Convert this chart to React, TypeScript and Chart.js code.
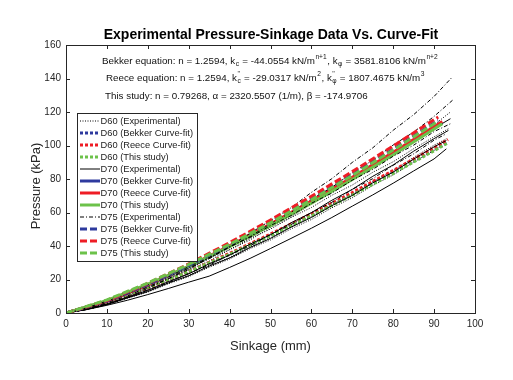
import React, { useEffect, useRef } from "react";
import { Chart, registerables } from "chart.js";

Chart.register(...registerables);

// ---------- DATA ----------
const xTicksLabel = [0, 10, 20, 30, 40, 50, 60, 70, 80, 90, 100];
const yTicksLabel = [0, 20, 40, 60, 80, 100, 120, 140, 160];

// experimental sinkage grid (mm); last value of each curve uses its own end sinkage
const expSinkage = [0, 5, 10, 15, 20, 25, 30, 35, 40, 45, 50, 55, 60, 65, 70, 75, 80, 85, 90];

const d60Exp1 = [0, 2.4, 5.9, 9.8, 14.9, 19.7, 25.7, 31.0, 37.8, 43.6, 51.0, 57.3, 65.1, 71.9, 80.2, 87.3, 95.9, 103.4, 112.3, 120];
const d60Exp2 = [0, 2.9, 6.5, 11.4, 15.8, 21.5, 26.3, 32.5, 37.8, 44.5, 50.1, 57.0, 63.0, 70.3, 76.4, 84.0, 90.3, 98.1, 105.2, 110];
const d60Exp3 = [0, 2.1, 5.0, 9.1, 12.9, 18.0, 22.4, 28.2, 33.2, 39.5, 44.9, 51.7, 57.6, 64.8, 70.9, 78.5, 85.0, 92.9, 100.2, 104];
const d60Exp4 = [0, 2.1, 4.9, 8.8, 12.5, 17.4, 21.7, 27.3, 32.2, 38.4, 43.6, 50.2, 55.8, 62.8, 68.8, 76.1, 82.4, 90.1, 97.1, 100];
const d60ExpEnd = [94, 93.5, 93, 92];

const d70Exp1 = [0, 3.1, 7.0, 11.9, 16.6, 22.5, 27.6, 34.1, 39.6, 46.6, 52.5, 59.8, 66.0, 73.5, 80.0, 87.9, 94.6, 102.7, 110.2, 116];
const d70Exp2 = [0, 2.2, 5.2, 9.5, 13.5, 18.7, 23.3, 29.4, 34.5, 41.1, 46.7, 53.8, 59.9, 67.3, 73.8, 81.6, 88.4, 96.6, 104.1, 109];
const d70Exp3 = [0, 2.1, 5.0, 9.0, 12.8, 17.9, 22.2, 28.0, 32.8, 39.1, 44.5, 51.2, 57.0, 64.1, 70.2, 77.7, 84.1, 91.9, 99.2, 103];
const d70Exp4 = [0, 2.0, 4.6, 7.6, 11.0, 14.6, 18.4, 22.0, 27.2, 32.6, 38.5, 44.5, 50.6, 57.0, 63.8, 70.5, 77.5, 84.8, 92.0, 98];
const d70ExpEnd = [94, 93.5, 93, 93];

const d75Exp1 = [0, 2.1, 5.4, 9.3, 14.8, 20.4, 26.0, 33.1, 39.5, 47.6, 55.2, 62.8, 72.0, 80.2, 89.9, 98.6, 109.1, 118.4, 129.3, 141];
const d75Exp2 = [0, 2.5, 6.2, 10.1, 15.6, 20.5, 26.9, 32.4, 39.4, 45.6, 53.3, 60.0, 68.1, 75.0, 83.7, 91.2, 100.3, 108.0, 117.4, 127];
const d75Exp3 = [0, 3.0, 7.1, 11.3, 16.8, 21.5, 27.7, 33.0, 39.6, 45.1, 52.2, 58.1, 65.5, 71.6, 79.3, 85.7, 93.6, 100.2, 108.3, 113];
const d75Exp4 = [0, 2.2, 5.5, 9.0, 13.8, 18.1, 23.7, 28.5, 34.8, 40.1, 46.9, 52.7, 59.9, 66.1, 73.8, 80.2, 88.2, 95.0, 103.2, 107];
const d75ExpEnd = [94.5, 94.5, 94, 93];

// curve-fit sinkage grid (mm)
const fitSinkage = [0, 10, 20, 30, 40, 50, 60, 70, 80, 90];

const d60Bekker = [0, 6.1, 14.6, 24.4, 35.1, 46.4, 58.4, 70.9, 83.9, 97.3, 102];
const d60Reece = [0, 6.2, 14.9, 24.8, 35.6, 47.1, 59.2, 71.9, 85.1, 98.6, 103.5];
const d60Study = [0, 6.6, 15.2, 24.7, 35.1, 46.2, 58.0, 70.4, 83.4, 96.9, 101.6];
const d60FitEnd = 93.4;

const d70Bekker = [0, 6.9, 16.6, 27.6, 39.7, 52.6, 66.2, 80.3, 95.1, 110.3, 113.4];
const d70Reece = [0, 7.0, 16.8, 27.9, 40.1, 53.1, 66.8, 81.0, 95.9, 111.2, 114.3];
const d70Study = [0, 7.5, 17.2, 27.9, 39.6, 52.2, 65.6, 79.7, 94.5, 109.9, 113.0];
const d70FitEnd = 92;

const d75Bekker = [0, 7.1, 17.1, 28.4, 40.9, 54.1, 68.1, 82.6, 97.8, 113.4, 115];
const d75Reece = [0, 7.4, 17.7, 29.3, 42.0, 55.5, 69.7, 84.4, 99.7, 115.4, 117];
const d75Study = [0, 7.8, 17.9, 29.0, 41.0, 53.9, 67.6, 82.1, 97.3, 113.0, 114.6];
const d75FitEnd = 91;

// ---------- STYLE ----------
const FONT = "'Liberation Sans', Arial, Helvetica, sans-serif";
const BLUE = "#2E3A9E";
const RED = "#EE1D25";
const GREEN = "#6CC24A";
const BLACK = "#000000";

const pts = (ys: number[], xs: number[], endX: number) =>
  ys.map((y, i) => ({ x: i < xs.length ? xs[i] : endX, y }));

type DS = {
  label: string;
  data: { x: number; y: number }[];
  color: string;
  width: number;
  dash: number[];
};

function buildDatasets(): DS[] {
  const out: DS[] = [];
  const expDash60 = [1, 1.5];
  const expDash75 = [4, 2, 1, 2];
  const fitDash60 = [3, 2];
  const fitDash75 = [7, 3];
  const groups = [
    { name: "D60", exps: [d60Exp1, d60Exp2, d60Exp3, d60Exp4], ends: d60ExpEnd, expDash: expDash60,
      fits: [d60Bekker, d60Reece, d60Study], fitEnd: d60FitEnd, fitDash: fitDash60 },
    { name: "D70", exps: [d70Exp1, d70Exp2, d70Exp3, d70Exp4], ends: d70ExpEnd, expDash: [] as number[],
      fits: [d70Bekker, d70Reece, d70Study], fitEnd: d70FitEnd, fitDash: [] as number[] },
    { name: "D75", exps: [d75Exp1, d75Exp2, d75Exp3, d75Exp4], ends: d75ExpEnd, expDash: expDash75,
      fits: [d75Bekker, d75Reece, d75Study], fitEnd: d75FitEnd, fitDash: fitDash75 },
  ];
  const fitNames = ["Bekker Curve-fit", "Reece Curve-fit", "This study"];
  const fitColors = [BLUE, RED, GREEN];
  for (const g of groups) {
    g.exps.forEach((ys, i) => {
      out.push({
        label: i === 0 ? `${g.name} (Experimental)` : "",
        data: pts(ys, expSinkage, g.ends[i]),
        color: BLACK, width: 1, dash: g.expDash,
      });
    });
    g.fits.forEach((ys, i) => {
      out.push({
        label: `${g.name} (${fitNames[i]})`,
        data: pts(ys, fitSinkage, g.fitEnd),
        color: fitColors[i], width: 3, dash: g.fitDash,
      });
    });
  }
  return out;
}

type Seg = { t: string; m?: "sub" | "sup" | "subsup"; sup?: string };

const line1: Seg[] = [
  { t: "Bekker equation: n = 1.2594, k" }, { t: "c", m: "sub" },
  { t: " = -44.0554 kN/m" }, { t: "n+1", m: "sup" },
  { t: ", k" }, { t: "\u03C6", m: "sub" },
  { t: " = 3581.8106 kN/m" }, { t: "n+2", m: "sup" },
];
const line2: Seg[] = [
  { t: "Reece equation: n = 1.2594, k" }, { t: "c", m: "subsup", sup: "''" },
  { t: " = -29.0317 kN/m" }, { t: "2", m: "sup" },
  { t: ", k" }, { t: "\u03C6", m: "subsup", sup: "''" },
  { t: " = 1807.4675 kN/m" }, { t: "3", m: "sup" },
];
const line3: Seg[] = [
  { t: "This study: n = 0.79268, \u03B1 = 2320.5507 (1/m), \u03B2 = -174.9706" },
];

function drawRich(ctx: CanvasRenderingContext2D, segs: Seg[], x: number, y: number, size: number) {
  let cx = x;
  ctx.textBaseline = "middle";
  ctx.textAlign = "left";
  for (const s of segs) {
    if (!s.m) {
      ctx.font = `${size}px ${FONT}`;
      ctx.fillText(s.t, cx, y);
      cx += ctx.measureText(s.t).width;
    } else {
      const small = size * 0.68;
      ctx.font = `${small}px ${FONT}`;
      if (s.m === "sub") {
        ctx.fillText(s.t, cx + 0.5, y + size * 0.35);
        cx += ctx.measureText(s.t).width + 1;
      } else if (s.m === "sup") {
        ctx.fillText(s.t, cx + 0.5, y - size * 0.4);
        cx += ctx.measureText(s.t).width + 1;
      } else {
        ctx.fillText(s.t, cx + 0.5, y + size * 0.35);
        ctx.fillText(s.sup || "", cx + 0.5, y - size * 0.4);
        cx += Math.max(ctx.measureText(s.t).width, ctx.measureText(s.sup || "").width) + 1;
      }
    }
  }
}

const decorPlugin = {
  id: "decor",
  afterDatasetsDraw(chart: any) {
    const { ctx, chartArea: a, scales } = chart;
    const xs = scales.x;
    const ys = scales.y;
    ctx.save();
    // box + inward ticks
    ctx.strokeStyle = "#262626";
    ctx.lineWidth = 1;
    ctx.strokeRect(Math.round(a.left) + 0.5, Math.round(a.top) + 0.5, Math.round(a.right - a.left), Math.round(a.bottom - a.top));
    ctx.beginPath();
    const tl = 4;
    xTicksLabel.forEach((v) => {
      const px = Math.round(xs.getPixelForValue(v)) + 0.5;
      ctx.moveTo(px, a.bottom); ctx.lineTo(px, a.bottom - tl);
      ctx.moveTo(px, a.top); ctx.lineTo(px, a.top + tl);
    });
    yTicksLabel.forEach((v) => {
      const py = Math.round(ys.getPixelForValue(v)) + 0.5;
      ctx.moveTo(a.left, py); ctx.lineTo(a.left + tl, py);
      ctx.moveTo(a.right, py); ctx.lineTo(a.right - tl, py);
    });
    ctx.stroke();

    // equations
    ctx.fillStyle = "#111";
    drawRich(ctx, line1, 102, 61, 9.8);
    drawRich(ctx, line2, 106, 78, 9.8);
    drawRich(ctx, line3, 105, 96, 9.8);

    // legend
    const items = chart.data.datasets.filter((d: any) => d.label);
    const lx = 77, ly = 113, lw = 120, rowH = 12;
    const lh = items.length * rowH + 4;
    ctx.fillStyle = "#fff";
    ctx.fillRect(lx, ly, lw, lh);
    ctx.strokeStyle = "#262626";
    ctx.lineWidth = 1;
    ctx.strokeRect(lx + 0.5, ly + 0.5, lw, lh);
    items.forEach((d: any, i: number) => {
      const cy = ly + 8 + i * rowH;
      ctx.beginPath();
      ctx.strokeStyle = d.borderColor;
      ctx.lineWidth = d.borderWidth;
      ctx.setLineDash(d.borderDash || []);
      ctx.moveTo(80, cy);
      ctx.lineTo(100, cy);
      ctx.stroke();
      ctx.setLineDash([]);
      ctx.fillStyle = "#222";
      ctx.font = `9.3px ${FONT}`;
      ctx.textAlign = "left";
      ctx.textBaseline = "middle";
      ctx.fillText(d.label, 100.5, cy + 0.5);
    });

    // titles
    ctx.fillStyle = "#000";
    ctx.font = `bold 14px ${FONT}`;
    ctx.textAlign = "center";
    ctx.textBaseline = "middle";
    ctx.fillText("Experimental Pressure-Sinkage Data Vs. Curve-Fit", 271, 35);
    ctx.fillStyle = "#262626";
    ctx.font = `13px ${FONT}`;
    ctx.fillText("Sinkage (mm)", (a.left + a.right) / 2, 346);
    ctx.save();
    ctx.translate(36, 186);
    ctx.rotate(-Math.PI / 2);
    ctx.fillText("Pressure (kPa)", 0, 0);
    ctx.restore();
    ctx.restore();
  },
};

export default function App() {
  const ref = useRef<HTMLCanvasElement | null>(null);
  useEffect(() => {
    document.body.style.margin = "0";
    const ds = buildDatasets();
    const n = ds.length;
    const chart = new Chart(ref.current as HTMLCanvasElement, {
      type: "line",
      data: {
        datasets: ds.map((d, i) => ({
          label: d.label,
          data: d.data,
          borderColor: d.color,
          backgroundColor: d.color,
          borderWidth: d.width,
          borderDash: d.dash,
          pointRadius: 0,
          tension: 0,
          fill: false,
          order: n - i,
        })),
      },
      options: {
        animation: false,
        responsive: false,
        devicePixelRatio: 1,
        layout: { padding: { top: 45, right: 38, left: 0, bottom: 0 } },
        plugins: { legend: { display: false }, tooltip: { enabled: false }, title: { display: false } },
        scales: {
          x: {
            type: "linear",
            min: 0,
            max: 100,
            afterFit: (s: any) => { s.height = 67; },
            grid: { display: false, drawTicks: false },
            border: { display: false },
            ticks: { stepSize: 10, padding: 5, color: "#262626", font: { size: 10, family: FONT }, maxRotation: 0 },
          },
          y: {
            min: 0,
            max: 160,
            afterFit: (s: any) => { s.width = 66; },
            grid: { display: false, drawTicks: false },
            border: { display: false },
            ticks: { stepSize: 20, padding: 5, color: "#262626", font: { size: 10, family: FONT } },
          },
        },
      },
      plugins: [decorPlugin],
    });
    return () => chart.destroy();
  }, []);
  return <canvas ref={ref} width={513} height={380} style={{ display: "block" }} />;
}
